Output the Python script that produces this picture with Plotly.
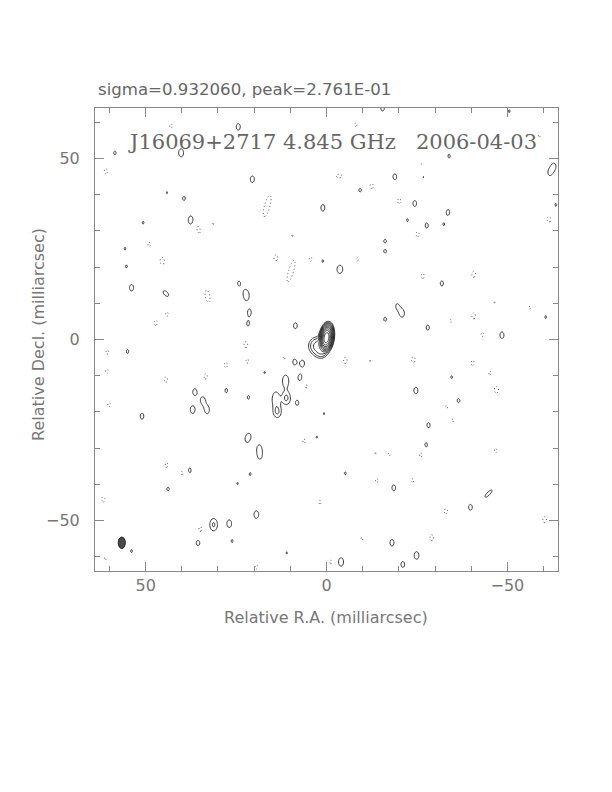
import numpy as np
import plotly.graph_objects as go

# ---------------- data read from the map (units: mas, amplitudes in units of lowest contour) ----
# compact positive noise/emission peaks (beam-shaped)
pos_x = [24.4, 40.2, 58.5, 20.5, 39.4, 1.0, 37.5, 50.7, 55.7, 55.3, 53.9, 24.2, 21.3, 21.7, 5.0, 8.6,
         44.1, 1.0, -15.5, -50.5, -33.9, -18.9, -26.7, -9.3, -24.4, -33.6, -22.4, -27.7, -32.4,
         -31.9, -19.5, -20.9, -16.2, -28.0, -48.5, -60.6, -62.9, -61.7, -63.4,
         55.0, 8.9, 6.6, 7.3, 11.1, 8.1, 21.6, 27.7, 36.4, 34.2, 33.0, 37.0, 51.0, 18.6, 18.4,
         45.8, 37.9, 21.1, 24.6, 43.8, 19.4, 31.2, 26.9, 35.5, 26.1, 53.9, 11.0, 2.7, 0.7, 17.1,
         -34.6, -24.7, -36.5, -28.2, -27.5, -5.2, -18.6, -39.8, -18.1, -24.9, -21.1, -4.0]
pos_y = [58.8, 51.6, 51.6, 44.3, 39.0, 36.4, 33.0, 32.3, 25.1, 20.2, 14.3, 15.5, 7.6, 4.2, 9.0, 3.8,
         40.6, 21.7, 64.0, 63.1, 50.7, 45.0, 45.0, 41.3, 37.6, 35.2, 33.0, 31.5, 31.8,
         15.5, 9.3, 7.2, 5.6, 3.3, 1.2, 6.2, 47.9, 46.1, 37.2,
         -3.3, -6.2, -6.6, -10.6, -16.2, -17.5, -16.0, -14.1, -14.5, -16.8, -19.5, -19.4, -21.2, -30.0, -32.3,
         -33.5, -36.2, -37.2, -39.8, -41.3, -48.4, -51.2, -50.9, -56.2, -55.7, -58.5, -59.0, -27.0, -20.5, -9.1,
         -10.4, -14.1, -16.9, -23.7, -29.2, -37.0, -41.0, -46.4, -56.2, -59.7, -62.2, -61.5]
pos_amp = [1.25, 1.4, 1.08, 1.25, 1.1, 1.25, 1.45, 1.05, 1.05, 1.05, 1.25, 1.1, 1.15, 1.05, 1.08, 1.2,
           1.03, 1.05, 1.2, 1.05, 1.08, 1.2, 1.05, 1.08, 1.2, 1.15, 1.05, 1.15, 1.03,
           1.15, 1.05, 1.3, 1.1, 1.15, 1.25, 1.05, 1.15, 1.1, 1.05,
           1.08, 1.15, 1.2, 1.25, 2.3, 1.15, 1.08, 1.1, 1.25, 1.25, 1.3, 1.35, 1.2, 1.15, 1.08,
           1.05, 1.2, 1.05, 1.03, 1.08, 1.35, 2.2, 1.35, 1.2, 1.05, 1.05, 1.03, 1.03, 1.03, 1.03,
           1.05, 1.25, 1.1, 1.15, 1.15, 1.05, 1.2, 1.2, 1.25, 1.35, 1.2, 1.45]

# compact negative peaks (beam-shaped)
neg_x = [43.0, 61.0, 49.0, 45.4, 14.0, 4.4, 44.1, 47.2, 5.3, 9.4, 31.3,
         -8.1, -12.5, -20.1, -26.1, -25.2, -8.6, -26.6, -40.7, -40.7, -34.4, -43.1, -46.4, -56.2, -61.5, -58.8,
         60.6, 60.7, 60.1, 44.4, 33.4, 27.8, 22.3, 21.9, 11.7, 5.6, 6.2, 44.4, 39.8, 61.7, 34.9, 1.8, 19.4, 61.2,
         -5.2, -12.0, -24.0, -40.4, -45.2, -47.0, -33.2, -34.9, -17.3, -26.1, -13.5, -46.8, -13.9, -23.8,
         -33.0, -29.1, -9.8, -60.3, -1.2]
neg_y = [59.0, 46.5, 26.3, 21.7, 22.6, 22.2, 7.0, 4.6, 6.5, 28.8, 32.1,
         59.4, 42.4, 38.3, 48.4, 29.1, 22.2, 17.5, 18.0, 6.5, 5.1, 1.4, 10.4, 8.8, 33.2, 56.2,
         -3.5, -8.8, -18.0, -11.1, -10.2, -7.0, -1.4, -6.0, -5.1, -12.9, -28.1, -34.6, -36.9, -44.2, -52.5, -45.0, -62.9, -60.6,
         -5.8, -5.8, -5.6, -6.5, -9.3, -13.9, -18.6, -22.4, -31.8, -31.8, -31.4, -30.7, -39.0, -39.0,
         -47.5, -54.8, -55.1, -49.8, -61.5]
neg_amp = [-1.1, -1.15, -1.1, -1.3, -1.2, -1.1, -1.1, -1.15, -1.15, -1.03, -1.03,
           -1.08, -1.15, -1.15, -1.05, -1.15, -1.05, -1.15, -1.2, -1.2, -1.05, -1.1, -1.03, -1.05, -1.2, -1.05,
           -1.1, -1.1, -1.1, -1.15, -1.15, -1.15, -1.2, -1.1, -1.05, -1.1, -1.1, -1.3, -1.15, -1.15, -1.15, -1.08, -1.1, -1.05,
           -1.2, -1.03, -1.2, -1.15, -1.08, -1.25, -1.05, -1.05, -1.05, -1.15, -1.03, -1.1, -1.1, -1.08,
           -1.15, -1.2, -1.05, -1.2, -1.08]

# extended / elongated components: core, jet and larger features (FWHM minor, major, PA deg)
ext_x = [0.0, 2.4, 1.5, 22.2, 11.3, 14.0, 13.6, 21.7, -3.7, -44.8, 44.4, -16.2, -16.2,
         16.4, 9.8, 32.9, 35.4, -3.5]
ext_y = [0.5, -1.8, -3.8, 12.3, -11.5, -16.5, -20.0, -27.2, 19.4, -42.6, 12.7, 27.2, 24.4,
         36.9, 18.9, 12.0, 30.4, 45.2]
ext_amp = [1000.0, 6.0, 2.5, 1.6, 1.7, 1.8, 2.1, 1.5, 1.5, 1.4, 1.35, 1.25, 1.25,
           -1.5, -1.4, -1.3, -1.2, -1.2]
ext_wx = [1.4, 3.2, 2.4, 2.0, 2.0, 2.2, 2.0, 2.0, 2.1, 1.2, 1.6, 1.3, 1.3,
          2.0, 2.0, 2.0, 1.8, 3.0]
ext_wy = [2.9, 3.2, 2.2, 3.6, 3.8, 4.3, 3.0, 3.4, 3.0, 4.0, 3.0, 1.8, 1.8,
          8.0, 9.0, 5.5, 4.0, 2.0]
ext_pa = [-8, 0, 0, 5, 0, 0, 0, -15, 0, -45, 45, 0, 0,
          -15, -17, 10, 15, 0]

# restoring beam
beam_x = [56.6]
beam_y = [-56.2]
beam_major = [3.2]
beam_minor = [2.0]
beam_pa = [0.0]

x_ticks = [50, 0, -50]
y_ticks = [-50, 0, 50]
header_text = "sigma=0.932060, peak=2.761E-01"
title_text = "J16069+2717 4.845 GHz   2006-04-03"
xlabel = "Relative R.A. (milliarcsec)"
ylabel = "Relative Decl. (milliarcsec)"

# ---------------- build model image ----------------
step = 0.3125
grid = np.arange(-64.0, 64.0 + step / 2, step)
X, Y = np.meshgrid(grid, grid)
img = np.zeros_like(X)
k = 4.0 * np.log(2.0)


def add_comp(x0, y0, a, wx, wy, pa):
    t = np.deg2rad(pa)
    dx = X - x0
    dy = Y - y0
    u = dx * np.cos(t) - dy * np.sin(t)
    v = dx * np.sin(t) + dy * np.cos(t)
    return a * np.exp(-k * ((u / wx) ** 2 + (v / wy) ** 2))


bw, bh = beam_minor[0], beam_major[0]
for x0, y0, a in zip(pos_x, pos_y, pos_amp):
    img += add_comp(x0, y0, a, bw, bh, 0)
for x0, y0, a in zip(neg_x, neg_y, neg_amp):
    img += add_comp(x0, y0, a, bw, bh, 0)
for x0, y0, a, wx, wy, pa in zip(ext_x, ext_y, ext_amp, ext_wx, ext_wy, ext_pa):
    img += add_comp(x0, y0, a, wx, wy, pa)

zpos = np.round(np.log2(np.clip(img, 1e-3, None)), 3)
zneg = np.round(-img, 3)

fig = go.Figure()
fig.add_trace(go.Contour(
    x=grid, y=grid, z=zpos, autocontour=False,
    contours=dict(start=0, end=9.5, size=1, coloring="lines"),
    colorscale=[[0, "#222222"], [1, "#222222"]], showscale=False,
    line=dict(width=0.9), hoverinfo="skip"))
fig.add_trace(go.Contour(
    x=grid, y=grid, z=zneg, autocontour=False,
    contours=dict(start=1, end=1.5, size=1, coloring="lines"),
    colorscale=[[0, "#555555"], [1, "#555555"]], showscale=False,
    line=dict(width=1, dash="1px,2.5px"), hoverinfo="skip"))

# beam ellipse
th = np.linspace(0, 2 * np.pi, 60)
for bx, by, bmaj, bmin, bpa in zip(beam_x, beam_y, beam_major, beam_minor, beam_pa):
    t = np.deg2rad(bpa)
    u = bmin / 2 * np.cos(th)
    v = bmaj / 2 * np.sin(th)
    ex = bx + u * np.cos(t) + v * np.sin(t)
    ey = by - u * np.sin(t) + v * np.cos(t)
    fig.add_trace(go.Scatter(x=ex, y=ey, mode="lines", fill="toself",
                             fillcolor="#4a4a4a", line=dict(color="#222222", width=1),
                             hoverinfo="skip", showlegend=False))

axis_common = dict(showline=True, linecolor="#888888", linewidth=1, mirror="ticks",
                   ticks="inside", ticklen=9, tickcolor="#888888", tickwidth=1,
                   showgrid=False, zeroline=False,
                   tickfont=dict(family="DejaVu Sans", size=16, color="#777777"),
                   minor=dict(dtick=10, tick0=0, ticks="inside", ticklen=5,
                              tickcolor="#888888", tickwidth=1, showgrid=False))

fig.update_xaxes(range=[64, -64], autorange=False, tickvals=x_ticks,
                 ticktext=["50", "0", "\u221250"], ticklabelstandoff=0, **axis_common)
fig.update_yaxes(range=[-64, 64], autorange=False, tickvals=y_ticks,
                 ticktext=["\u221250", "0", "50"], ticklabelstandoff=11, **axis_common)

fig.update_layout(
    width=612, height=792,
    margin=dict(l=87, r=62, t=100, b=229),
    paper_bgcolor="white", plot_bgcolor="white",
    showlegend=False,
    annotations=[
        dict(text=header_text, xref="paper", yref="paper", x=0.002, y=1.039,
             xanchor="left", yanchor="middle", showarrow=False,
             font=dict(family="DejaVu Sans", size=16.6, color="#666666")),
        dict(text=title_text, xref="paper", yref="paper", x=0.067, y=0.9266,
             xanchor="left", yanchor="middle", showarrow=False,
             font=dict(family="DejaVu Serif", size=21, color="#666666")),
        dict(text=xlabel, xref="paper", yref="paper", x=0.499, y=-0.0994,
             xanchor="center", yanchor="middle", showarrow=False,
             font=dict(family="DejaVu Sans", size=16, color="#777777")),
        dict(text=ylabel, xref="paper", yref="paper", x=-0.121, y=0.512,
             xanchor="center", yanchor="middle", showarrow=False, textangle=-90,
             font=dict(family="DejaVu Sans", size=16, color="#777777")),
    ],
)

fig.write_html("out.html")
